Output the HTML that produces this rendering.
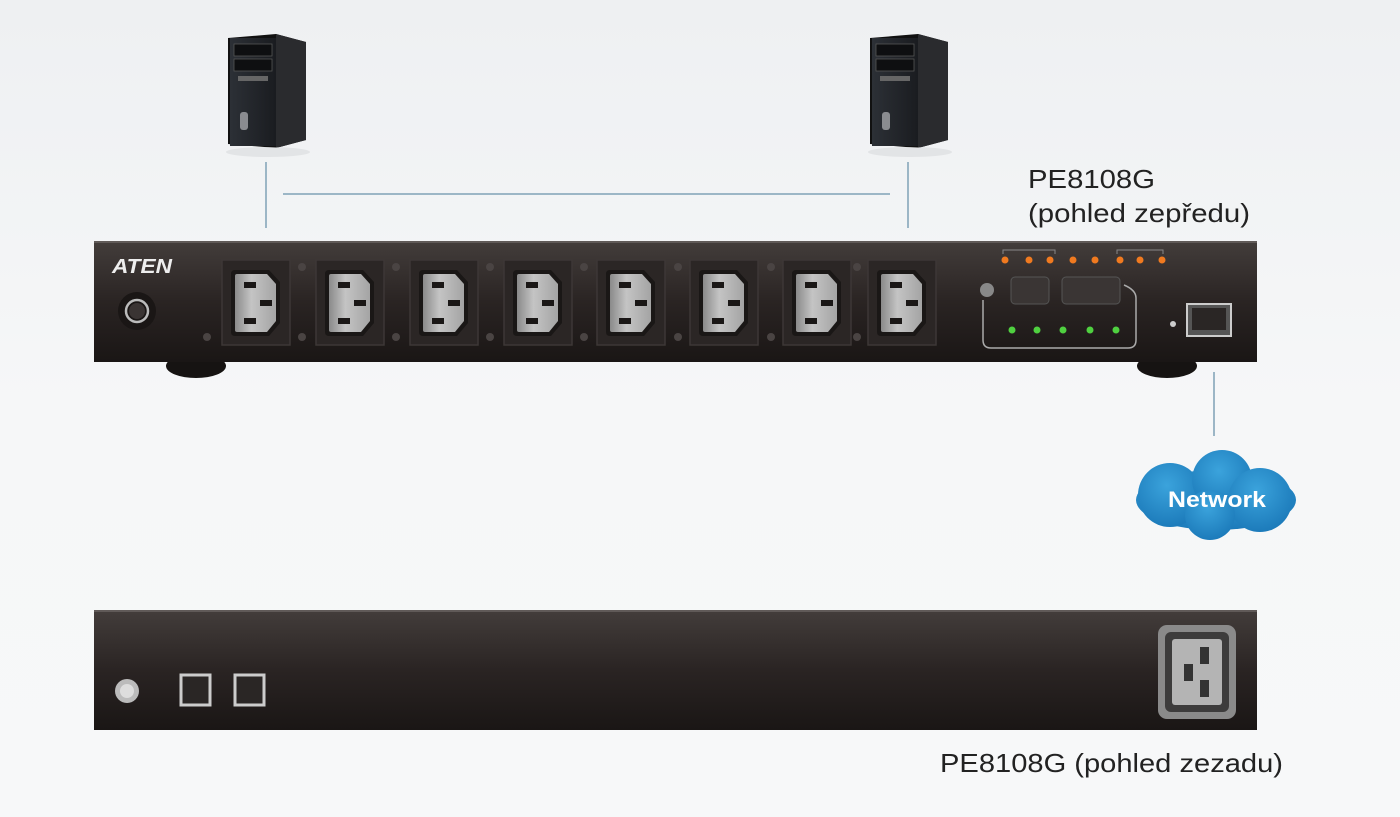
<!DOCTYPE html>
<html><head><meta charset="utf-8"><style>
html,body{margin:0;padding:0;background:#f4f5f7;}
svg{display:block}
text{font-family:"Liberation Sans",sans-serif}
</style></head><body>
<svg width="1400" height="817" viewBox="0 0 1400 817" xmlns="http://www.w3.org/2000/svg">
<defs>
<linearGradient id="bg" x1="0" y1="0" x2="0" y2="1"><stop offset="0" stop-color="#eef0f2"/><stop offset="0.5" stop-color="#f6f7f8"/><stop offset="1" stop-color="#f7f8f9"/></linearGradient>
<linearGradient id="panel" x1="0" y1="0" x2="0" y2="1"><stop offset="0" stop-color="#433d3b"/><stop offset="0.5" stop-color="#2a2423"/><stop offset="1" stop-color="#1a1615"/></linearGradient>
<linearGradient id="inlet" x1="0" y1="0" x2="1" y2="0"><stop offset="0" stop-color="#8a8a8a"/><stop offset="0.4" stop-color="#c4c4c4"/><stop offset="1" stop-color="#a4a4a4"/></linearGradient>
<linearGradient id="tower" x1="0" y1="0" x2="1" y2="0"><stop offset="0" stop-color="#2c3036"/><stop offset="1" stop-color="#1a1c20"/></linearGradient>
<radialGradient id="cloud" cx="0.45" cy="0.35" r="0.7"><stop offset="0" stop-color="#3ba3dc"/><stop offset="1" stop-color="#1a78b8"/></radialGradient>
<g id="out">
<rect x="0" y="0" width="68" height="85" fill="#2b2625" stroke="#3d3736" stroke-width="1.5"/>
<path d="M13,10 H47 L58,22 V63 L47,76 H13 Q9,76 9,72 V14 Q9,10 13,10 Z" fill="#1a1716"/>
<path d="M15,14 H45 L54,24 V61 L45,72 H15 Q13,72 13,70 V16 Q13,14 15,14 Z" fill="url(#inlet)"/>
<rect x="22" y="22" width="12" height="6" fill="#1a1716"/>
<rect x="22" y="58" width="12" height="6" fill="#1a1716"/>
<rect x="38" y="40" width="12" height="6" fill="#1a1716"/>
</g>
<g id="pc">
<polygon points="0,6 48,2 78,10 78,108 48,116 0,112" fill="#111"/>
<polygon points="48,2 78,10 78,108 48,116" fill="#2a2b2e"/>
<rect x="2" y="6" width="46" height="108" fill="url(#tower)"/>
<rect x="6" y="12" width="38" height="12" fill="#0e0f11" stroke="#555" stroke-width="0.8"/>
<rect x="6" y="27" width="38" height="12" fill="#0e0f11" stroke="#555" stroke-width="0.8"/>
<rect x="10" y="44" width="30" height="5" fill="#666"/>
<rect x="12" y="80" width="8" height="18" rx="3" fill="#8a8c90"/>
<ellipse cx="40" cy="120" rx="42" ry="5" fill="#d9dadc" opacity="0.6"/>
</g>
</defs>
<rect width="1400" height="817" fill="url(#bg)"/>

<use href="#pc" x="228" y="32"/>
<use href="#pc" x="870" y="32"/>

<g stroke="#9cb6c6" stroke-width="2" fill="none">
<line x1="266" y1="162" x2="266" y2="228"/>
<line x1="908" y1="162" x2="908" y2="228"/>
<line x1="283" y1="194" x2="890" y2="194"/>
<line x1="1214" y1="372" x2="1214" y2="436"/>
</g>

<text x="1028" y="188" font-size="26" fill="#222" textLength="127" lengthAdjust="spacingAndGlyphs">PE8108G</text>
<text x="1028" y="222" font-size="26" fill="#222" textLength="222" lengthAdjust="spacingAndGlyphs">(pohled zepředu)</text>

<ellipse cx="196" cy="366" rx="30" ry="12" fill="#161312"/>
<ellipse cx="1167" cy="366" rx="30" ry="12" fill="#161312"/>
<rect x="94" y="241" width="1163" height="121" fill="url(#panel)"/>
<line x1="94" y1="242" x2="1257" y2="242" stroke="#6a6462" stroke-width="1.5"/>
<text x="112" y="273" font-size="20" font-weight="bold" fill="#eee" font-style="italic" textLength="60" lengthAdjust="spacingAndGlyphs">ATEN</text>
<circle cx="137" cy="311" r="19" fill="#1a1615"/>
<circle cx="137" cy="311" r="11" fill="none" stroke="#bbb" stroke-width="2.5"/>
<circle cx="137" cy="311" r="8" fill="#3a3433"/>
<use href="#out" x="222" y="260"/>
<use href="#out" x="316" y="260"/>
<use href="#out" x="410" y="260"/>
<use href="#out" x="504" y="260"/>
<use href="#out" x="597" y="260"/>
<use href="#out" x="690" y="260"/>
<use href="#out" x="783" y="260"/>
<use href="#out" x="868" y="260"/>
<g fill="#4a4443">
<circle cx="207" cy="337" r="4"/><circle cx="302" cy="267" r="4"/><circle cx="302" cy="337" r="4"/>
<circle cx="396" cy="267" r="4"/><circle cx="396" cy="337" r="4"/><circle cx="490" cy="267" r="4"/><circle cx="490" cy="337" r="4"/>
<circle cx="584" cy="267" r="4"/><circle cx="584" cy="337" r="4"/><circle cx="678" cy="267" r="4"/><circle cx="678" cy="337" r="4"/>
<circle cx="771" cy="267" r="4"/><circle cx="771" cy="337" r="4"/><circle cx="857" cy="267" r="4"/><circle cx="857" cy="337" r="4"/>
</g>
<g fill="#f07a20">
<circle cx="1005" cy="260" r="3.5"/><circle cx="1029" cy="260" r="3.5"/><circle cx="1050" cy="260" r="3.5"/><circle cx="1073" cy="260" r="3.5"/>
<circle cx="1095" cy="260" r="3.5"/><circle cx="1120" cy="260" r="3.5"/><circle cx="1140" cy="260" r="3.5"/><circle cx="1162" cy="260" r="3.5"/>
</g>
<path d="M1003,254 V250 H1055 V254 M1117,254 V250 H1163 V254" stroke="#888" fill="none" stroke-width="1"/>
<circle cx="987" cy="290" r="7" fill="#888"/>
<rect x="1011" y="277" width="38" height="27" rx="4" fill="#3a3534" stroke="#555"/>
<rect x="1062" y="277" width="58" height="27" rx="4" fill="#3a3534" stroke="#555"/>
<path d="M983,300 V340 Q983,348 991,348 H1128 Q1136,348 1136,340 V298 Q1136,290 1124,285" stroke="#aaa" fill="none" stroke-width="1.5"/>
<g fill="#4fd040">
<circle cx="1012" cy="330" r="3.5"/><circle cx="1037" cy="330" r="3.5"/><circle cx="1063" cy="330" r="3.5"/><circle cx="1090" cy="330" r="3.5"/><circle cx="1116" cy="330" r="3.5"/>
</g>
<circle cx="1173" cy="324" r="3" fill="#ccc"/>
<rect x="1187" y="304" width="44" height="32" fill="#555" stroke="#ccc" stroke-width="2"/>
<rect x="1192" y="308" width="34" height="22" fill="#2a2625"/>

<g fill="url(#cloud)">
<ellipse cx="1216" cy="500" rx="80" ry="30"/>
<circle cx="1170" cy="495" r="32"/>
<circle cx="1222" cy="480" r="30"/>
<circle cx="1260" cy="500" r="32"/>
<circle cx="1210" cy="515" r="25"/>
</g>
<text x="1168" y="507" font-size="22" font-weight="bold" fill="#fff" textLength="98" lengthAdjust="spacingAndGlyphs">Network</text>

<rect x="94" y="610" width="1163" height="120" fill="url(#panel)"/>
<line x1="94" y1="611" x2="1257" y2="611" stroke="#6a6462" stroke-width="1.5"/>
<circle cx="127" cy="691" r="12" fill="#bbb"/>
<circle cx="127" cy="691" r="7" fill="#ddd"/>
<rect x="181" y="675" width="29" height="30" fill="#2a2625" stroke="#ccc" stroke-width="3"/>
<rect x="235" y="675" width="29" height="30" fill="#2a2625" stroke="#ccc" stroke-width="3"/>
<rect x="1158" y="625" width="78" height="94" rx="9" fill="#8a8a8a"/>
<rect x="1165" y="632" width="64" height="80" rx="6" fill="#3d3c3c"/>
<rect x="1172" y="639" width="50" height="66" rx="3" fill="#b4b4b4"/>
<rect x="1200" y="647" width="9" height="17" fill="#333"/>
<rect x="1184" y="664" width="9" height="17" fill="#333"/>
<rect x="1200" y="680" width="9" height="17" fill="#333"/>

<text x="940" y="772" font-size="26" fill="#222" textLength="343" lengthAdjust="spacingAndGlyphs">PE8108G (pohled zezadu)</text>
</svg>
</body></html>
